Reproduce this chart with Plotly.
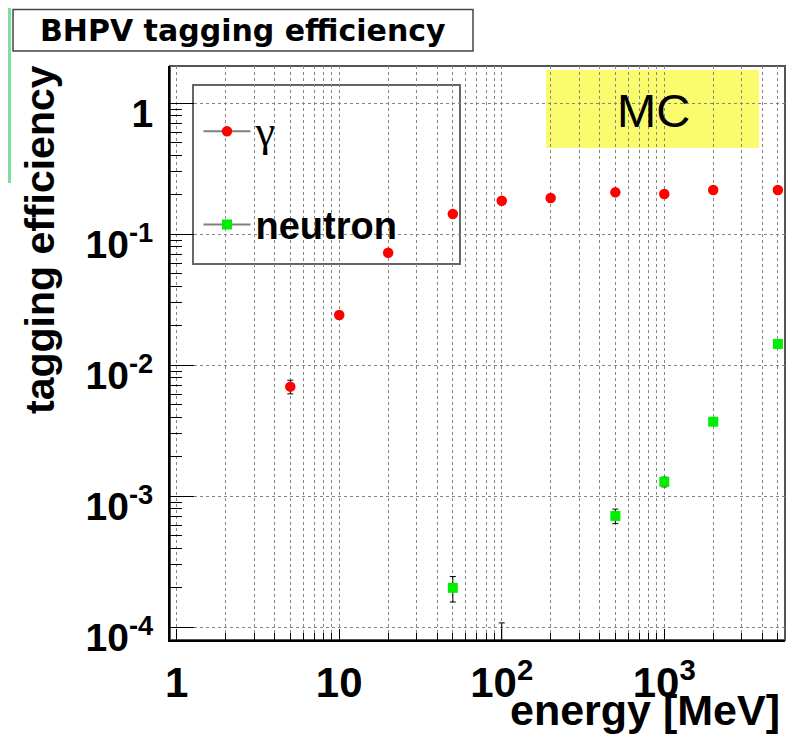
import plotly.graph_objects as go

# ---------------- data ----------------
gamma_energy = [5, 10, 20, 50, 100, 200, 500, 1000, 2000, 5000]          # MeV
gamma_eff = [0.00687, 0.0242, 0.0724, 0.143, 0.1805, 0.189, 0.209, 0.203, 0.218, 0.218]
gamma_err = [0.00082, 0.0015, 0.0026, 0.0035, 0.0038, 0.0039, 0.0041, 0.0040, 0.0041, 0.0041]

neutron_energy = [50, 100, 500, 1000, 2000, 5000]                        # MeV
neutron_eff = [2.0e-4, 0.0, 7.08e-4, 1.29e-3, 3.71e-3, 1.455e-2]
neutron_err = [0.44e-4, 1.08e-4, 0.9e-4, 1.1e-4, 1.9e-4, 3.8e-4]

x_tickvals = [1, 10, 100, 1000]
x_ticktext = ["1", "10", "10<sup>2</sup>", "10<sup>3</sup>"]
y_tickvals = [1, 1e-1, 1e-2, 1e-3, 1e-4]
y_ticktext = ["1", "10<sup>-1</sup>", "10<sup>-2</sup>", "10<sup>-3</sup>", "10<sup>-4</sup>"]

title_text = "BHPV tagging efficiency"
x_title = "energy [MeV]"
y_title = "tagging efficiency"
label_text = "MC"
legend_gamma = "γ"
legend_neutron = "neutron"

# ---------------- layout geometry (page pixels) ----------------
OFF = 8                      # default body margin of the html page
W, H = 801 - 2 * OFF, 745 - 2 * OFF
L, R, T, B = 170, 785, 66, 640   # plot frame in page pixels
PW, PH = R - L, B - T


def fx(px):
    return (px - L) / PW


def fy(py):
    return (B - py) / PH


RED = "#ff0000"
GREEN = "#00ee00"
GRID = "#858585"
FONT = "Liberation Sans"

fig = go.Figure()

# gamma
fig.add_trace(go.Scatter(
    x=gamma_energy, y=gamma_eff, mode="markers", showlegend=False,
    marker=dict(symbol="circle", size=10.5, color=RED, line=dict(width=0)),
    error_y=dict(type="data", array=gamma_err, color="black", thickness=1, width=3),
))

# neutron (non-zero points)
n_x = [e for e, v in zip(neutron_energy, neutron_eff) if v > 0]
n_y = [v for v in neutron_eff if v > 0]
n_e = [er for v, er in zip(neutron_eff, neutron_err) if v > 0]
fig.add_trace(go.Scatter(
    x=n_x, y=n_y, mode="markers", showlegend=False,
    marker=dict(symbol="square", size=10, color=GREEN, line=dict(width=0)),
    error_y=dict(type="data", array=n_e, color="black", thickness=1, width=3),
))

# neutron zero-yield points: only the upper error bar is visible on a log scale
floor = 1e-7
z_x = [e for e, v in zip(neutron_energy, neutron_eff) if v <= 0]
z_e = [er - floor for v, er in zip(neutron_eff, neutron_err) if v <= 0]
fig.add_trace(go.Scatter(
    x=z_x, y=[floor] * len(z_x), mode="markers", showlegend=False,
    marker=dict(size=1, color="rgba(0,0,0,0)"),
    error_y=dict(type="data", array=z_e, arrayminus=[0] * len(z_x),
                 color="black", thickness=1, width=3),
))

# legend entries
fig.add_trace(go.Scatter(
    x=[None], y=[None], mode="lines+markers", legendgroup="g",
    name="<span style='font-family:Liberation Serif;font-weight:normal;font-size:44px'>" + legend_gamma + "</span>",
    line=dict(color="#808080", width=2),
    marker=dict(symbol="circle", size=10.5, color=RED, line=dict(width=0)),
))
fig.add_trace(go.Scatter(
    x=[None], y=[None], mode="lines+markers", legendgroup="n",
    name=legend_neutron,
    line=dict(color="#808080", width=2),
    marker=dict(symbol="square", size=10, color=GREEN, line=dict(width=0)),
))

x_minor = [m * 10 ** d for d in range(0, 4) for m in range(2, 10)]
y_minor = [m * 10.0 ** d for d in range(-4, 0) for m in range(2, 10)]

fig.update_layout(
    width=W, height=H,
    margin=dict(l=L - OFF, r=W - (R - OFF), t=T - OFF, b=H - (B - OFF), pad=0),
    paper_bgcolor="white", plot_bgcolor="white",
    font=dict(family=FONT, color="black"),
    showlegend=True,
    legend=dict(
        x=fx(198.5), y=fy(100), xanchor="left", yanchor="top",
        bgcolor="rgba(0,0,0,0)", borderwidth=0,
        font=dict(family=FONT, size=38, color="black", weight="bold"),
        itemwidth=47, tracegroupgap=41, traceorder="grouped",
        itemclick=False, itemdoubleclick=False,
    ),
    xaxis=dict(
        type="log", range=[-0.0412, 3.7427],
        tickmode="array", tickvals=x_tickvals, ticktext=x_ticktext,
        tickfont=dict(family=FONT, size=42, weight="bold"),
        ticks="inside", ticklen=11, tickwidth=1, tickcolor="black",
        ticklabelstandoff=5,
        showgrid=True, gridcolor=GRID, griddash="dot", gridwidth=1,
        minor=dict(tickmode="array", tickvals=x_minor, ticks="inside", ticklen=7,
                   tickcolor="black", showgrid=True, gridcolor=GRID,
                   griddash="dot", gridwidth=1),
        showline=True, linecolor="black", linewidth=2, mirror=False,
        zeroline=False,
    ),
    yaxis=dict(
        type="log", range=[-4.097, 0.2847],
        tickmode="array", tickvals=y_tickvals, ticktext=y_ticktext,
        tickfont=dict(family=FONT, size=39, weight="bold"),
        ticks="inside", ticklen=24, tickwidth=1, tickcolor="black",
        ticklabelstandoff=7, ticklabelshift=10,
        showgrid=True, gridcolor=GRID, griddash="dot", gridwidth=1,
        minor=dict(tickmode="array", tickvals=y_minor, ticks="inside", ticklen=12,
                   tickcolor="black", showgrid=False),
        showline=True, linecolor="black", linewidth=2, mirror=False,
        zeroline=False,
    ),
)

shapes = [
    # frame (top / right in dark grey)
    dict(type="rect", xref="paper", yref="paper", x0=0, x1=1, y0=0, y1=1,
         line=dict(color="#555555", width=2), fillcolor="rgba(0,0,0,0)", layer="below"),
    # MC label pad
    dict(type="rect", xref="paper", yref="paper", x0=fx(546), x1=fx(759), y0=fy(148), y1=fy(70),
         line=dict(width=0), fillcolor="#fbfb6e", layer="below"),
    # legend box
    dict(type="rect", xref="paper", yref="paper", x0=fx(193), x1=fx(460), y0=fy(264), y1=fy(85),
         line=dict(color="#666666", width=2), fillcolor="white", layer="between"),
    # title box
    dict(type="rect", xref="paper", yref="paper", x0=fx(13), x1=fx(473), y0=fy(51), y1=fy(9.5),
         line=dict(color="#444444", width=1.5), fillcolor="white", layer="above"),
    # green slide edge
    dict(type="rect", xref="paper", yref="paper", x0=fx(8), x1=fx(11), y0=fy(183), y1=fy(8),
         line=dict(width=0), fillcolor="#7ddfa0", layer="above"),
]
fig.update_layout(shapes=shapes)

fig.add_annotation(text=title_text, xref="paper", yref="paper", x=fx(243), y=fy(30),
                   xanchor="center", yanchor="middle", showarrow=False,
                   font=dict(family="DejaVu Sans", size=30, weight="bold", color="black"))
fig.add_annotation(text=label_text, xref="paper", yref="paper", x=fx(653), y=fy(110),
                   xanchor="center", yanchor="middle", showarrow=False,
                   font=dict(family=FONT, size=47, color="black"))
fig.add_annotation(text=x_title, xref="paper", yref="paper", x=fx(782), y=fy(710),
                   xanchor="right", yanchor="middle", showarrow=False,
                   font=dict(family=FONT, size=43, weight="bold", color="black"))
fig.add_annotation(text=y_title, xref="paper", yref="paper", x=fx(40), y=fy(240),
                   xanchor="center", yanchor="middle", showarrow=False, textangle=-90,
                   font=dict(family=FONT, size=41, weight="bold", color="black"))

fig.write_html("out.html")
